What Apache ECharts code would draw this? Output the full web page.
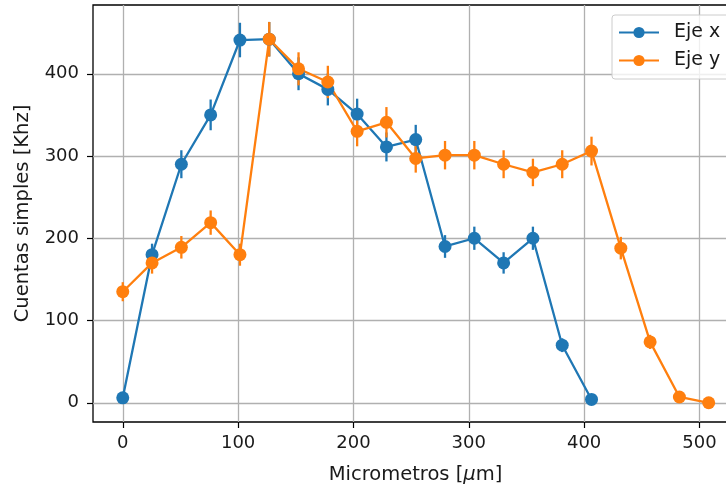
<!DOCTYPE html>
<html>
<head>
<meta charset="utf-8">
<script src="https://cdn.jsdelivr.net/npm/echarts@6/dist/echarts.min.js"></script>
<style>html,body{margin:0;padding:0;background:#fff}#c{width:726px;height:488px}</style>
</head>
<body>
<div id="c"></div>
<script>
// Data
var xBlue = [0, 25.4, 50.8, 76.2, 101.6, 127, 152.4, 177.8, 203.2, 228.6, 254, 279.4, 304.8, 330.2, 355.6, 381, 406.4];
var yBlue = [6, 180, 290, 350, 441, 442, 400, 381, 351, 311, 320, 190, 200, 170, 200, 70, 4];
var errBlue = [2.4, 13.4, 17, 18.7, 21, 21, 20, 19.5, 18.7, 17.6, 17.9, 13.8, 14.1, 13, 14.1, 8.4, 2];

var xOrange = [0, 25.4, 50.8, 76.2, 101.6, 127, 152.4, 177.8, 203.2, 228.6, 254, 279.4, 304.8, 330.2, 355.6, 381, 406.4, 431.8, 457.2, 482.6, 508];
var yOrange = [135, 170, 189, 219, 180, 442, 406, 390, 330, 341, 297, 301, 301, 290, 280, 290, 306, 188, 74, 7, 0];
var errOrange = [11.6, 13, 13.7, 14.8, 13.4, 21, 20.1, 19.7, 18.2, 18.5, 17.2, 17.3, 17.3, 17, 16.7, 17, 17.5, 13.7, 8.6, 2.6, 0];

var xTicks = [0, 100, 200, 300, 400, 500];
var yTicks = [0, 100, 200, 300, 400];

var seriesNames = ['Eje x', 'Eje y'];
var colors = ['#1f77b4', '#ff7f0e'];

function pairs(xs, ys) { return xs.map(function (x, i) { return [x, ys[i]]; }); }
function triples(xs, ys, es) { return xs.map(function (x, i) { return [x, ys[i], es[i]]; }); }

function errSeries(name, color, data) {
  return {
    name: name, type: 'custom', data: data, silent: true,
    encode: { x: 0, y: 1 },
    renderItem: function (params, api) {
      var x = api.value(0), y = api.value(1), e = api.value(2);
      var p1 = api.coord([x, y + e]);
      var p2 = api.coord([x, y - e]);
      return { type: 'line', shape: { x1: p1[0], y1: p1[1], x2: p2[0], y2: p2[1] },
        style: { stroke: color, lineWidth: 2.3 } };
    }
  };
}
function lineSeries(name, color, data) {
  return {
    name: name, type: 'line', data: data, color: color,
    symbol: 'circle', symbolSize: 13, showSymbol: true,
    lineStyle: { width: 2.3, color: color },
    itemStyle: { color: color },
    emphasis: { disabled: true }, animation: false
  };
}

var font = 'DejaVu Sans';
var txt = '#1a1a1a';
var chart = echarts.init(document.getElementById('c'), null, { renderer: 'canvas' });
chart.setOption({
  animation: false,
  textStyle: { fontFamily: font },
  grid: { left: 93, top: 5, right: -12, bottom: 66, show: true, borderColor: '#000', borderWidth: 1.3,
    containLabel: false, outerBoundsMode: 'none' },
  legend: {
    data: seriesNames, left: 612, top: 15, orient: 'vertical',
    itemWidth: 40, itemHeight: 14, itemGap: 9,
    padding: [8, 20, 9, 6],
    backgroundColor: 'rgba(255,255,255,0.8)', borderColor: '#cccccc', borderWidth: 1, borderRadius: 3,
    textStyle: { fontFamily: font, fontSize: 19, color: txt, padding: [0, 0, 0, 10] }
  },
  xAxis: {
    type: 'value', min: -25.8, max: 533.4,
    name: 'Micrometros [{i|μ}m]', nameLocation: 'middle', nameGap: 43,
    nameTextStyle: { fontFamily: font, fontSize: 19.5, color: txt,
      rich: { i: { fontFamily: font, fontSize: 19.5, fontStyle: 'italic', color: txt } } },
    axisLine: { show: false, onZero: false },
    axisTick: { show: true, length: 6, lineStyle: { color: '#000', width: 1.2 }, customValues: xTicks },
    axisLabel: { fontFamily: font, fontSize: 18, color: txt, margin: 12, customValues: xTicks },
    splitLine: { show: true, lineStyle: { color: '#b0b0b0', width: 1.3 } }
  },
  yAxis: {
    type: 'value', min: -23.4, max: 483.6,
    name: 'Cuentas simples [Khz]', nameLocation: 'middle', nameGap: 60, nameRotate: 90,
    nameTextStyle: { fontFamily: font, fontSize: 19.5, color: txt },
    axisLine: { show: false, onZero: false },
    axisTick: { show: true, length: 6, lineStyle: { color: '#000', width: 1.2 }, customValues: yTicks },
    axisLabel: { fontFamily: font, fontSize: 18, color: txt, margin: 14, customValues: yTicks },
    splitLine: { show: true, lineStyle: { color: '#b0b0b0', width: 1.3 } }
  },
  series: [
    errSeries('errx', colors[0], triples(xBlue, yBlue, errBlue)),
    lineSeries(seriesNames[0], colors[0], pairs(xBlue, yBlue)),
    errSeries('erry', colors[1], triples(xOrange, yOrange, errOrange)),
    lineSeries(seriesNames[1], colors[1], pairs(xOrange, yOrange))
  ]
});
</script>
</body>
</html>
